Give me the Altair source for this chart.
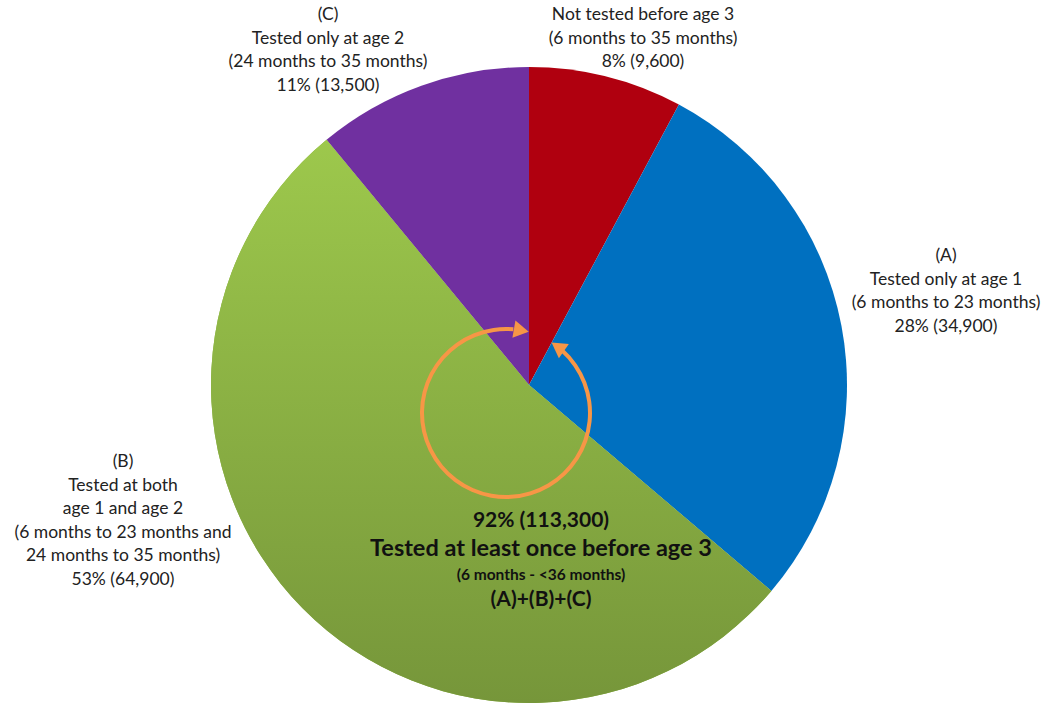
import altair as alt
import pandas as pd
import numpy as np

# ---- data ----
categories = ["Not tested", "A", "B", "C"]
values = [9600, 34900, 64900, 13500]
slice_colors = ["#B0000F", "#0070C0", "#8DB544", "#7030A0"]

label_texts = [
    "Not tested before age 3\n(6 months to 35 months)\n8% (9,600)",
    "(A)\nTested only at age 1\n(6 months to 23 months)\n28% (34,900)",
    "(B)\nTested at both\nage 1 and age 2\n(6 months to 23 months and\n24 months to 35 months)\n53% (64,900)",
    "(C)\nTested only at age 2\n(24 months to 35 months)\n11% (13,500)",
]
label_x = [643, 946, 123, 328]
label_y = [6, 247, 453, 6]

center_lines = ["92% (113,300)", "Tested at least once before age 3",
                "(6 months - <36 months)", "(A)+(B)+(C)"]
center_sizes = [21, 23.5, 15.5, 21]
center_y = [521, 549, 575, 600]

W, H = 1047, 705
CX, CY, R = 529, 385, 318

total = sum(values)
ends = np.cumsum(values) / total * 2 * np.pi
starts = np.concatenate([[0], ends[:-1]])
pie_df = pd.DataFrame({"cat": categories, "value": values,
                       "t0": starts, "t1": ends})

base = alt.Chart(pie_df)
pie = base.mark_arc(outerRadius=R, stroke=None).encode(
    x=alt.value(CX), y=alt.value(CY),
    theta=alt.Theta("t0:Q", scale=None), theta2="t1:Q",
    color=alt.Color("cat:N", scale=alt.Scale(domain=categories, range=slice_colors), legend=None),
)
green = base.transform_filter(alt.datum.cat == "B").mark_arc(
    outerRadius=R,
    fill=alt.Gradient(gradient="linear",
                      stops=[alt.GradientStop(color="#9DC84C", offset=0),
                             alt.GradientStop(color="#76963A", offset=1)],
                      x1=0, x2=0, y1=0, y2=1),
).encode(
    x=alt.value(CX), y=alt.value(CY),
    theta=alt.Theta("t0:Q", scale=None), theta2="t1:Q",
)

# ---- orange circular arrow ----
OX, OY, OR = 506, 413, 84
deg = np.pi / 180
ring_df = pd.DataFrame({"a0": [42 * deg], "a1": [365 * deg]})
ring = alt.Chart(ring_df).mark_arc(innerRadius=OR - 2, outerRadius=OR + 2, color="#F79646").encode(
    x=alt.value(OX), y=alt.value(OY),
    theta=alt.Theta("a0:Q", scale=None), theta2="a1:Q",
)
head_pos_deg = [10.5, 38.0]
head_dir = [100, 305]
heads_df = pd.DataFrame({
    "px": [OX + OR * np.sin(a * deg) for a in head_pos_deg],
    "py": [OY - OR * np.cos(a * deg) for a in head_pos_deg],
    "ang": head_dir,
})
heads = alt.Chart(heads_df).mark_point(shape="triangle-up", filled=True, size=300,
                                       color="#F79646", opacity=1).encode(
    x=alt.X("px:Q", scale=None), y=alt.Y("py:Q", scale=None),
    angle=alt.Angle("ang:Q", scale=None),
)

# ---- labels ----
lab_df = pd.DataFrame({"t": label_texts, "x": label_x, "y": label_y})
labels = alt.Chart(lab_df).mark_text(
    font="Lato", fontSize=17.5, color="#222222", align="center", baseline="top",
    lineBreak="\n", lineHeight=23.5,
).encode(x=alt.X("x:Q", scale=None), y=alt.Y("y:Q", scale=None), text="t:N")

ctr_df = pd.DataFrame({"t": center_lines, "s": center_sizes, "y": center_y})
center = alt.Chart(ctr_df).mark_text(
    font="Lato", fontWeight="bold", color="#111111", align="center", baseline="middle",
).encode(x=alt.value(541), y=alt.Y("y:Q", scale=None),
         text="t:N", size=alt.Size("s:Q", scale=None, legend=None))

chart = alt.layer(pie, green, ring, heads, labels, center).properties(
    width=W, height=H, padding=0, autosize=alt.AutoSizeParams(type="none"),
    background="white",
).configure_view(stroke=None)

chart.save("out.html", embed_options={"renderer": "svg", "actions": False})
